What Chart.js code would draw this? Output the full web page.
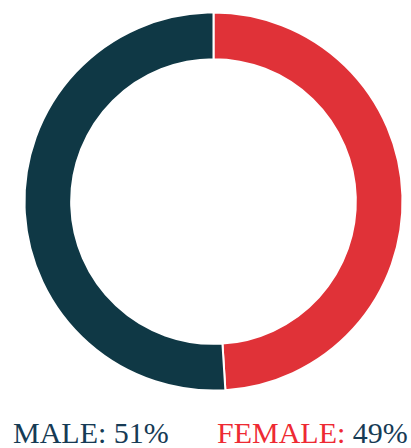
<!DOCTYPE html>
<html>
<head>
<meta charset="utf-8">
<script src="https://cdn.jsdelivr.net/npm/chart.js@4"></script>
<style>
html,body{margin:0;padding:0;background:#fff;width:411px;height:448px;overflow:hidden;}
#wrap{position:absolute;left:0;top:0;width:411px;height:403px;}
.lab{position:absolute;font-family:"Liberation Serif",serif;font-size:30px;line-height:1;white-space:nowrap;color:#163b55;}
</style>
</head>
<body>
<div id="wrap"><canvas id="c"></canvas></div>
<div class="lab" id="m" style="left:13px;top:418px;"></div>
<div class="lab" id="f" style="left:217px;top:418px;"></div>
<script>
const categories = ["FEMALE", "MALE"];
const values = [49, 51];
const colors = ["#e03238", "#0f3845"];

document.getElementById('m').innerHTML = '<span style="color:#163b55">' + categories[1] + ':</span> ' + values[1] + '%';
document.getElementById('f').innerHTML = '<span style="color:#ee2a33">' + categories[0] + ':</span> ' + values[0] + '%';

new Chart(document.getElementById('c'), {
  type: 'doughnut',
  data: {
    labels: categories,
    datasets: [{
      data: values,
      backgroundColor: colors,
      borderColor: '#ffffff',
      borderWidth: 2,
      hoverOffset: 0
    }]
  },
  options: {
    responsive: true,
    maintainAspectRatio: false,
    animation: false,
    radius: 189,
    cutout: 148,
    layout: { padding: { left: 16 } },
    plugins: { legend: { display: false }, tooltip: { enabled: false } }
  }
});
</script>
</body>
</html>
